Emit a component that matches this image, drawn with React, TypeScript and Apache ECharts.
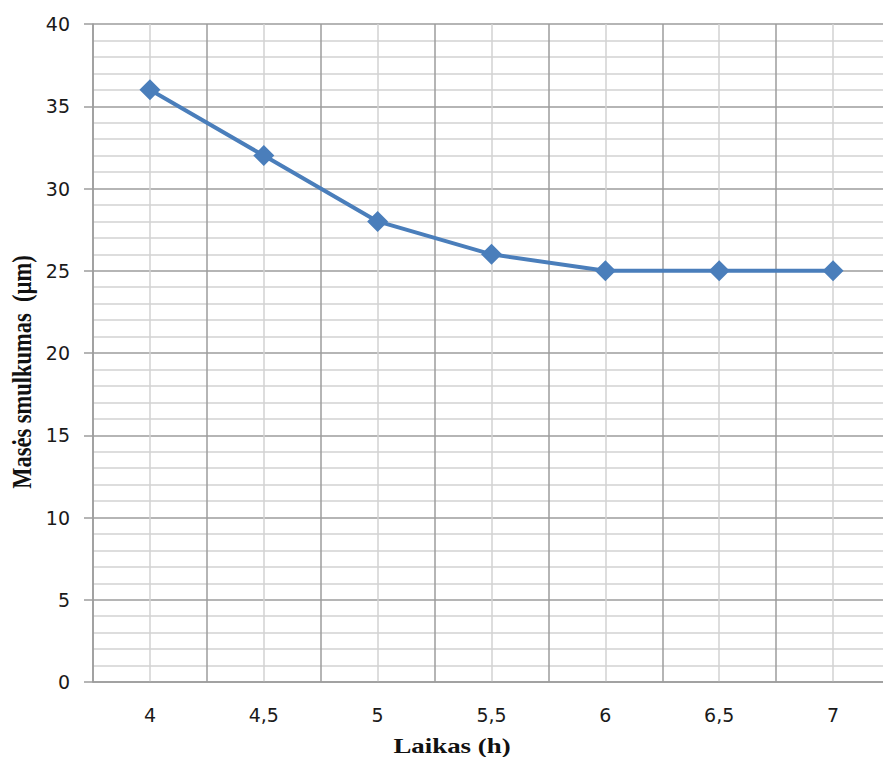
import React, { useEffect, useRef } from "react";
import * as echarts from "echarts";

const categories = ["4", "4,5", "5", "5,5", "6", "6,5", "7"];
const values = [36, 32, 28, 26, 25, 25, 25];
const yTicks = { min: 0, max: 40, interval: 5 };
const xTitle = "Laikas (h)";
const yTitle = "Masės smulkumas  (µm)";

export default function App() {
  const ref = useRef<HTMLDivElement>(null);
  useEffect(() => {
    if (!ref.current) return;
    const chart = echarts.init(ref.current, null, { renderer: "svg" });
    const major = "#9c9c9c";
    const minor = "#d2d2d2";
    const labelFont = { fontFamily: "DejaVu Sans", fontSize: 19, color: "#1a1a1a" };
    chart.setOption({
      animation: false,
      backgroundColor: "#ffffff",
      grid: { left: 93, top: 24, width: 797, height: 658, containLabel: false },
      xAxis: [
        {
          type: "category",
          data: categories,
          boundaryGap: true,
          axisLine: { show: true, lineStyle: { color: major, width: 1.5 } },
          axisTick: { show: false },
          axisLabel: { ...labelFont, margin: 23, interval: 0 },
          splitLine: { show: true, lineStyle: { color: major, width: 1.5 } },
          z: 3,
        },
        {
          type: "value",
          min: 0,
          max: 14,
          interval: 1,
          position: "top",
          axisLine: { show: false },
          axisTick: { show: false },
          axisLabel: { show: false },
          splitLine: { show: true, lineStyle: { color: ["rgba(0,0,0,0)", minor], width: 1.5 } },
        },
      ],
      yAxis: {
        type: "value",
        min: yTicks.min,
        max: yTicks.max,
        interval: yTicks.interval,
        axisLine: { show: true, lineStyle: { color: major, width: 1.5 } },
        axisTick: { show: true, length: 9, lineStyle: { color: major, width: 1.5 } },
        axisLabel: { ...labelFont, margin: 23 },
        splitLine: { show: true, lineStyle: { color: major, width: 1.5 } },
        minorTick: { show: false, splitNumber: 5 },
        minorSplitLine: { show: true, lineStyle: { color: minor, width: 1.5 } },
      },
      series: [
        {
          type: "line",
          xAxisIndex: 0,
          data: values,
          symbol: "diamond",
          symbolSize: 21,
          lineStyle: { color: "#4a7ebb", width: 4 },
          itemStyle: { color: "#4a7ebb" },
          z: 5,
        },
      ],
      graphic: [
        {
          type: "text",
          x: 452,
          y: 746,
          style: {
            text: xTitle,
            fontFamily: "Liberation Serif",
            fontWeight: "bold",
            fontSize: 21,
            fill: "#111",
            textAlign: "center",
            textVerticalAlign: "middle",
          },
          scaleX: 1.28,
        },
        {
          type: "text",
          x: 22,
          y: 372,
          rotation: Math.PI / 2,
          scaleY: 1.22,
          style: {
            text: yTitle,
            fontFamily: "Liberation Serif",
            fontWeight: "bold",
            fontSize: 22.5,
            fill: "#111",
            textAlign: "center",
            textVerticalAlign: "middle",
          },
        },
      ],
    });
    return () => chart.dispose();
  }, []);
  return (
    <div style={{ position: "fixed", left: 0, top: 0, width: 883, height: 757, overflow: "hidden", background: "#fff" }}>
      <div ref={ref} style={{ width: 910, height: 757 }} />
    </div>
  );
}
